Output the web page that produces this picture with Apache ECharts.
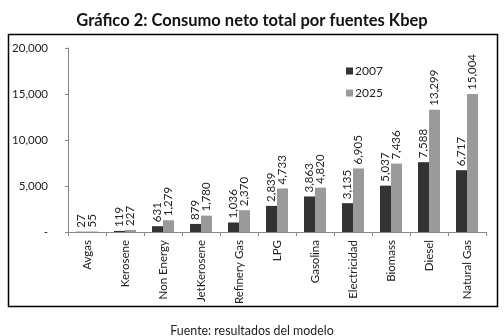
<!DOCTYPE html>
<html>
<head>
<meta charset="utf-8">
<script src="https://cdn.jsdelivr.net/npm/echarts@6/dist/echarts.min.js"></script>
<style>
  html, body { margin: 0; padding: 0; background: #fff; }
  #chart { width: 504px; height: 336px; }
</style>
</head>
<body>
<div id="chart"></div>
<script>
// Chart data
const categories = ['Avgas', 'Kerosene', 'Non Energy', 'JetKerosene', 'Refinery Gas', 'LPG',
    'Gasolina', 'Electricidad', 'Biomass', 'Diesel', 'Natural Gas'];
const values2007 = [27, 119, 631, 879, 1036, 2839, 3863, 3135, 5037, 7588, 6717];
const values2025 = [55, 227, 1279, 1780, 2370, 4733, 4820, 6905, 7436, 13299, 15004];
const yTicks = [0, 5000, 10000, 15000, 20000];

const chart = echarts.init(document.getElementById('chart'));
const font = 'Lato, "DejaVu Sans", sans-serif';

const fmt = v => v === 0 ? '-' : v.toLocaleString('en-US');

const labelStyle = {
    show: true,
    position: 'top',
    rotate: 90,
    align: 'left',
    verticalAlign: 'middle',
    distance: 4,
    fontSize: 11.5,
    fontFamily: font,
    color: '#222',
    formatter: p => fmt(p.value)
};

chart.setOption({
    animation: false,
    graphic: [
        {
            type: 'rect',
            shape: { x: 8.5, y: 34.5, width: 489, height: 272 },
            style: { fill: 'none', stroke: '#000', lineWidth: 1.5 }
        }
    ],
    title: [
        {
            text: 'Gráfico 2: Consumo neto total por fuentes Kbep',
            left: 'center',
            top: 7,
            textStyle: { fontSize: 16.5, fontWeight: 'bold', fontFamily: font, color: '#111' }
        },
        {
            text: 'Fuente: resultados del modelo',
            left: 'center',
            top: 320,
            textStyle: { fontSize: 12.4, fontWeight: 'normal', fontFamily: font, color: '#222' }
        }
    ],
    legend: {
        orient: 'vertical',
        left: 341,
        top: 60,
        itemWidth: 7,
        itemHeight: 7,
        itemGap: 10,
        icon: 'rect',
        textStyle: { fontSize: 12, fontFamily: font, color: '#222', padding: [0, 0, 0, -3] },
        data: ['2007', '2025']
    },
    grid: { left: 68, right: 18, top: 48, bottom: 104 },
    xAxis: {
        type: 'category',
        data: categories,
        axisLine: { lineStyle: { color: '#888' } },
        axisTick: { show: true, length: 4, lineStyle: { color: '#888' } },
        axisLabel: { rotate: 90, fontSize: 11.5, fontFamily: font, color: '#222', margin: 8, interval: 0 }
    },
    yAxis: {
        type: 'value',
        min: yTicks[0],
        max: yTicks[yTicks.length - 1],
        interval: yTicks[1] - yTicks[0],
        axisLine: { show: true, lineStyle: { color: '#888' } },
        axisTick: { show: true, length: 3, lineStyle: { color: '#888' } },
        splitLine: { show: false },
        axisLabel: { fontSize: 11.5, fontFamily: font, color: '#222', margin: 20, formatter: fmt }
    },
    series: [
        {
            name: '2007',
            type: 'bar',
            data: values2007,
            barWidth: 11,
            barGap: '0%',
            itemStyle: { color: '#333333' },
            label: labelStyle
        },
        {
            name: '2025',
            type: 'bar',
            data: values2025,
            barWidth: 11,
            itemStyle: { color: '#9a9a9a' },
            label: labelStyle
        }
    ]
});
</script>
</body>
</html>
